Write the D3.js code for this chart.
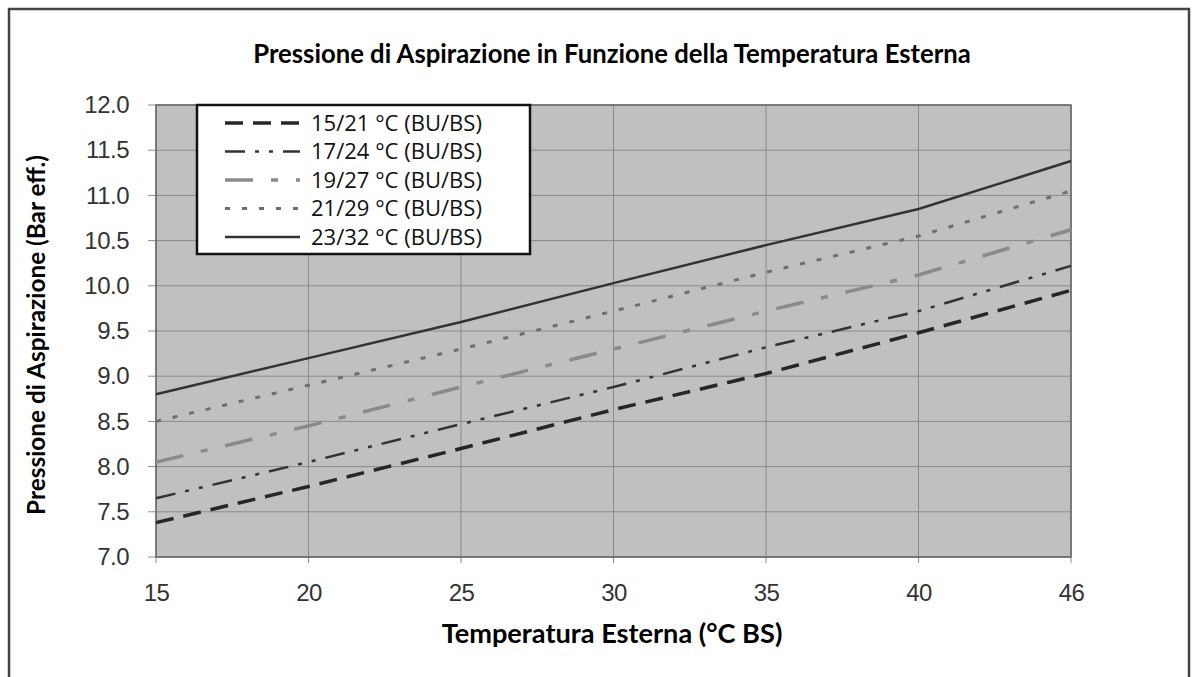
<html>
  <head>
    <meta charset="utf-8">
    <style>
body { margin: 0; background: #fff; }
.tick text { font-family: "Liberation Sans", Arial, sans-serif; font-size: 24px; letter-spacing: -0.5px; fill: #333; }
.title { font-family: Lato, "Open Sans", sans-serif; font-weight: bold; font-size: 22px; fill: #000; }
.legend text { font-family: "Open Sans", sans-serif; font-size: 21px; fill: #111; }
    </style>
    <script src="https://d3js.org/d3.v7.min.js"></script>
  </head>
  <body>
    <svg width="1196" height="677"></svg>
    <script>

var temps = ["15", "20", "25", "30", "35", "40", "46"];
var yTicks = [7.0, 7.5, 8.0, 8.5, 9.0, 9.5, 10.0, 10.5, 11.0, 11.5, 12.0];

var names = ["15/21 °C (BU/BS)", "17/24 °C (BU/BS)", "19/27 °C (BU/BS)", "21/29 °C (BU/BS)", "23/32 °C (BU/BS)"];
var s1521 = [7.38, 7.78, 8.2, 8.63, 9.03, 9.48, 9.95];
var s1724 = [7.65, 8.05, 8.47, 8.88, 9.32, 9.72, 10.22];
var s1927 = [8.05, 8.45, 8.88, 9.3, 9.72, 10.12, 10.62];
var s2129 = [8.5, 8.9, 9.3, 9.72, 10.15, 10.55, 11.05];
var s2332 = [8.8, 9.2, 9.6, 10.03, 10.45, 10.85, 11.38];

var series = [s1521, s1724, s1927, s2129, s2332];
var styles = [
  {color: "#262626", width: 3.5, dash: "18,10"},
  {color: "#333", width: 2.5, dash: "20,10,4,10,4,10"},
  {color: "#8a8a8a", width: 3.5, dash: "28,18,7,18"},
  {color: "#6e6e6e", width: 3, dash: "5,12"},
  {color: "#333", width: 2.5, dash: null}
];

var svg = d3.select("svg"),
    margin = {top: 105, right: 125, bottom: 120, left: 156},
    width = +svg.attr("width") - margin.left - margin.right,
    height = +svg.attr("height") - margin.top - margin.bottom;

// scale a text's font size so it spans the wanted width
function fit(sel, w) {
  var len = sel.node().getComputedTextLength();
  var fs = parseFloat(getComputedStyle(sel.node()).fontSize);
  sel.style("font-size", (fs * w / len) + "px");
}

// outer frame
svg.append("rect")
  .attr("x", 9).attr("y", 9)
  .attr("width", 1180).attr("height", 700)
  .attr("fill", "none").attr("stroke", "#444").attr("stroke-width", 2.5);

var x = d3.scalePoint().domain(temps).range([0, width]),
    y = d3.scaleLinear().domain([7, 12]).range([height, 0]);

var g = svg.append("g")
  .attr("transform", "translate(" + margin.left + "," + margin.top + ")");

g.append("rect")
  .attr("width", width).attr("height", height)
  .attr("fill", "#c0c0c0");

// grid
g.selectAll(".hgrid").data(yTicks).enter().append("line")
  .attr("x1", -8).attr("x2", width)
  .attr("y1", function(d) { return y(d); }).attr("y2", function(d) { return y(d); })
  .attr("stroke", "#8a8a8a").attr("stroke-width", 1);

g.selectAll(".vgrid").data(temps).enter().append("line")
  .attr("x1", function(d) { return x(d); }).attr("x2", function(d) { return x(d); })
  .attr("y1", 0).attr("y2", height + 6)
  .attr("stroke", "#8a8a8a").attr("stroke-width", 1);

g.append("rect")
  .attr("width", width).attr("height", height)
  .attr("fill", "none").attr("stroke", "#666").attr("stroke-width", 1.5);

g.append("g")
  .attr("transform", "translate(0," + height + ")")
  .call(d3.axisBottom(x).tickSize(0).tickPadding(27))
  .call(function(a) { a.select(".domain").remove(); });

g.append("g")
  .call(d3.axisLeft(y).tickValues(yTicks).tickFormat(d3.format(".1f")).tickSize(0).tickPadding(27))
  .call(function(a) { a.select(".domain").remove(); });

var line = d3.line()
  .x(function(d, i) { return x(temps[i]); })
  .y(function(d) { return y(d); });

series.forEach(function(s, i) {
  g.append("path")
    .datum(s)
    .attr("d", line)
    .attr("fill", "none")
    .attr("stroke", styles[i].color)
    .attr("stroke-width", styles[i].width)
    .attr("stroke-dasharray", styles[i].dash);
});

// legend
var lg = svg.append("g").attr("class", "legend").attr("transform", "translate(197,105)");
lg.append("rect")
  .attr("width", 333).attr("height", 149)
  .attr("fill", "#fff").attr("stroke", "#111").attr("stroke-width", 2.5);

names.forEach(function(n, i) {
  var yy = 18 + i * 28.5;
  lg.append("line")
    .attr("x1", 28).attr("x2", 103)
    .attr("y1", yy).attr("y2", yy)
    .attr("stroke", styles[i].color)
    .attr("stroke-width", styles[i].width)
    .attr("stroke-dasharray", styles[i].dash);
  var t = lg.append("text")
    .attr("x", 114).attr("y", yy).attr("dy", "0.35em")
    .text(n);
  fit(t, 171);
});

var t1 = svg.append("text")
  .attr("class", "title")
  .attr("x", 612).attr("y", 63)
  .attr("text-anchor", "middle")
  .text("Pressione di Aspirazione in Funzione della Temperatura Esterna");
fit(t1, 718);

var t2 = svg.append("text")
  .attr("class", "title")
  .attr("x", 612).attr("y", 643)
  .attr("text-anchor", "middle")
  .text("Temperatura Esterna (°C BS)");
fit(t2, 341);

var t3 = svg.append("text")
  .attr("class", "title")
  .attr("transform", "translate(45,335) rotate(-90)")
  .attr("text-anchor", "middle")
  .text("Pressione di Aspirazione (Bar eff.)");
fit(t3, 360);

    </script>
  </body>
</html>
